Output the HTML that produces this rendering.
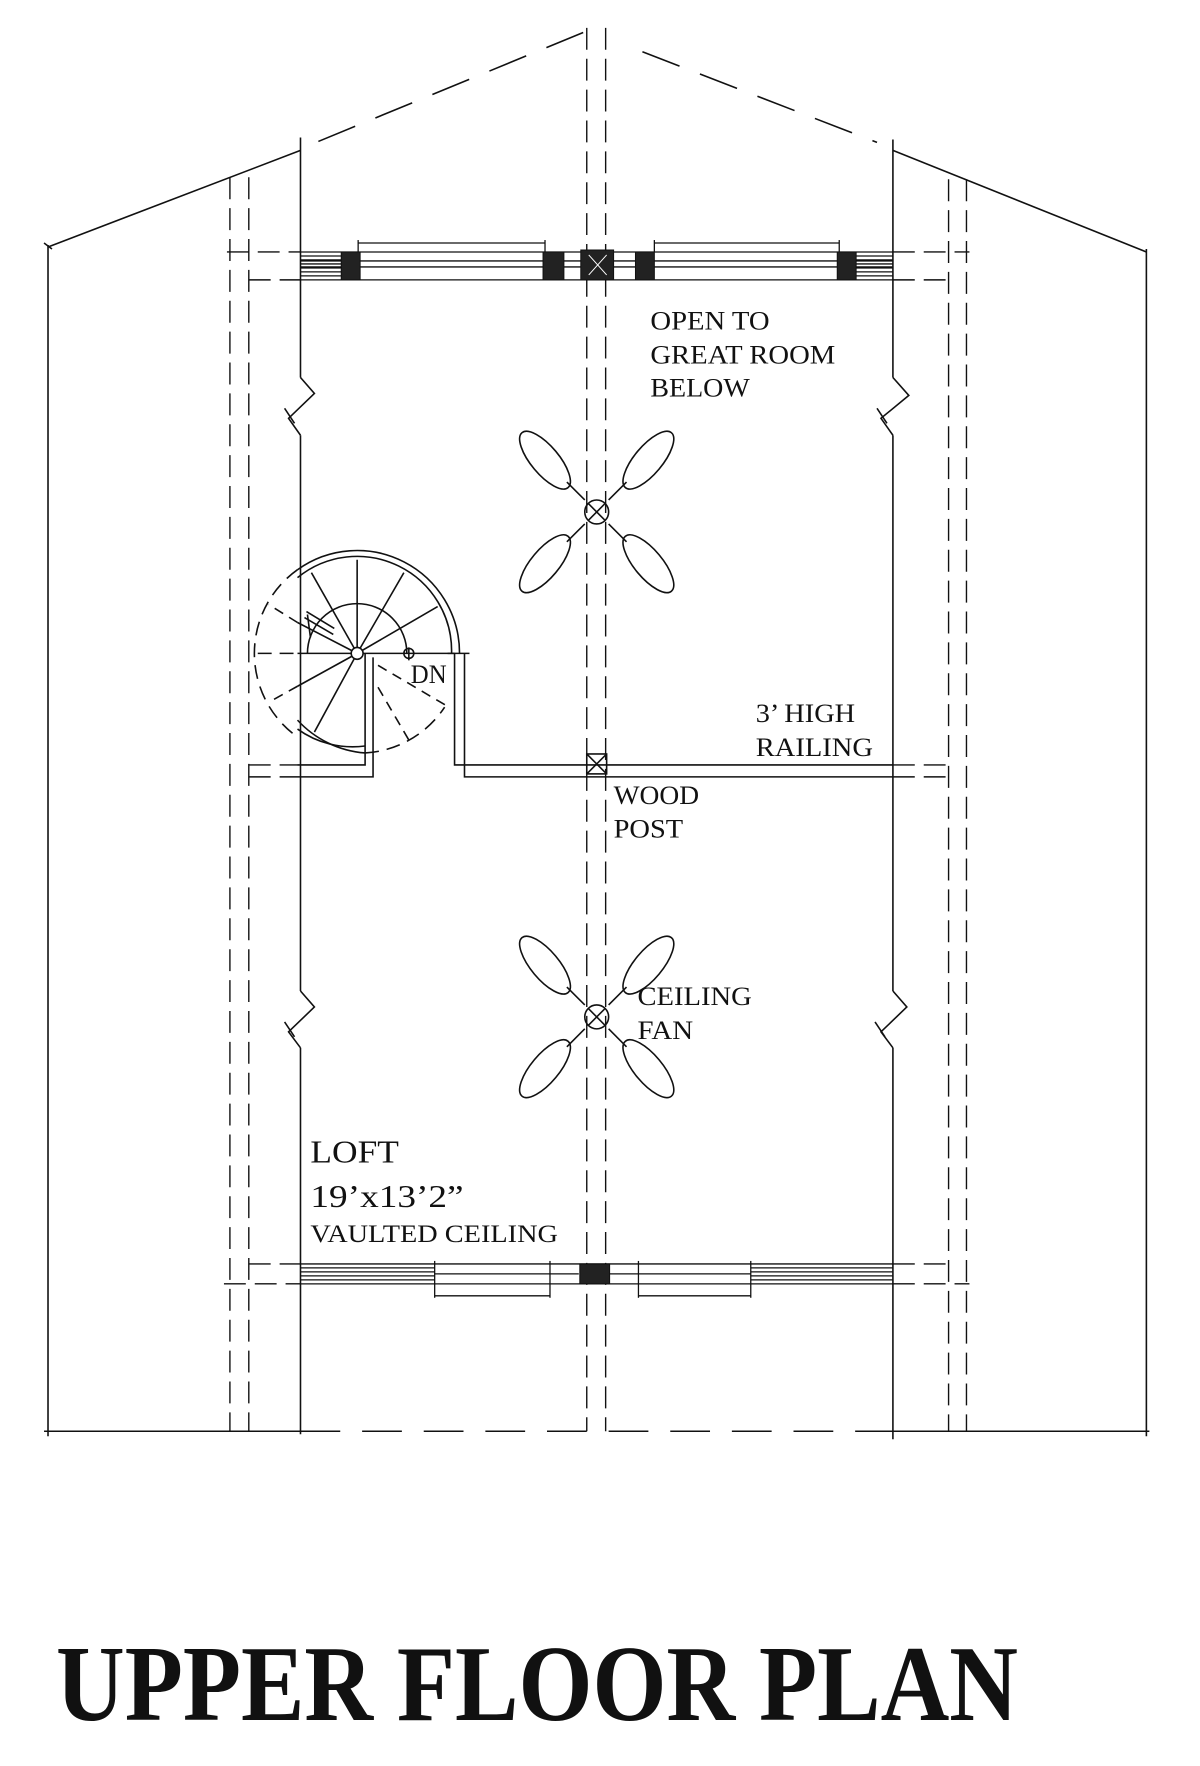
<!DOCTYPE html>
<html><head><meta charset="utf-8"><style>
html,body{margin:0;padding:0;background:#fff}
svg{display:block}
text{font-family:"Liberation Serif",serif;fill:#111}
</style></head><body>
<svg width="1200" height="1766" viewBox="0 0 1200 1766" xmlns="http://www.w3.org/2000/svg">
<g transform="translate(0.3,0) scale(0.994,0.996)">
<g stroke="#111" stroke-width="1.6" fill="none">
<line x1="48" y1="246" x2="48" y2="1442"/>
<line x1="1153" y1="250" x2="1153" y2="1442"/>
<line x1="44" y1="244" x2="52" y2="250"/>
<line x1="44" y1="1437" x2="302" y2="1437"/>
<line x1="302" y1="1437" x2="898" y2="1437" stroke-dasharray="40,22"/>
<line x1="894" y1="1437" x2="1156" y2="1437"/>
<line x1="48" y1="248" x2="302" y2="151"/>
<line x1="320" y1="142" x2="600" y2="27" stroke-dasharray="40,22"/>
<line x1="646" y1="52" x2="882" y2="143" stroke-dasharray="40,22"/>
<line x1="898" y1="151" x2="1153" y2="253"/>
<line x1="302" y1="138" x2="302" y2="379"/>
<polyline points="302,379 316,395 290,420 302,437"/>
<line x1="286" y1="410" x2="296" y2="425"/>
<line x1="302" y1="437" x2="302" y2="995"/>
<polyline points="302,995 316,1011 290,1036 302,1052"/>
<line x1="286" y1="1026" x2="296" y2="1041"/>
<line x1="302" y1="1052" x2="302" y2="1440"/>
<line x1="898" y1="140" x2="898" y2="379"/>
<polyline points="898,379 914,397 886,420 898,437"/>
<line x1="882" y1="410" x2="892" y2="425"/>
<line x1="898" y1="437" x2="898" y2="995"/>
<polyline points="898,995 912,1011 886,1036 898,1052"/>
<line x1="880" y1="1026" x2="890" y2="1041"/>
<line x1="898" y1="1052" x2="898" y2="1445"/>
</g>
<g stroke="#111" stroke-width="1.4" fill="none" stroke-dasharray="22,9">
<line x1="231" y1="178" x2="231" y2="1437"/>
<line x1="250" y1="178" x2="250" y2="1437"/>
<line x1="954" y1="180" x2="954" y2="1437"/>
<line x1="972" y1="180" x2="972" y2="1437"/>
<line x1="590" y1="28" x2="590" y2="1437"/>
<line x1="609" y1="28" x2="609" y2="1437"/>
<line x1="228" y1="253" x2="302" y2="253"/>
<line x1="898" y1="253" x2="975" y2="253"/>
<line x1="250" y1="281" x2="302" y2="281"/>
<line x1="898" y1="281" x2="960" y2="281"/>
<line x1="250" y1="1269" x2="302" y2="1269"/>
<line x1="898" y1="1269" x2="954" y2="1269"/>
<line x1="225" y1="1289" x2="302" y2="1289"/>
<line x1="898" y1="1289" x2="975" y2="1289"/>
<line x1="250" y1="768" x2="299" y2="768"/>
<line x1="250" y1="780" x2="299" y2="780"/>
<line x1="898" y1="768" x2="954" y2="768"/>
<line x1="898" y1="780" x2="954" y2="780"/>
</g>
<g stroke="#111" stroke-width="1.3" fill="none">
<line x1="302" y1="253" x2="898" y2="253"/>
<line x1="302" y1="281" x2="898" y2="281"/>
<line x1="302" y1="262" x2="898" y2="262"/>
<line x1="302" y1="268" x2="898" y2="268"/>
<line x1="360" y1="244" x2="548" y2="244"/><line x1="360" y1="241" x2="360" y2="253"/><line x1="548" y1="241" x2="548" y2="253"/>
<line x1="658" y1="244" x2="844" y2="244"/><line x1="658" y1="241" x2="658" y2="253"/><line x1="844" y1="241" x2="844" y2="253"/>
<path d="M302 257H343M302 261H343M302 265H343M302 269H343M302 273H343M302 277H343M861 257H898M861 261H898M861 265H898M861 269H898M861 273H898M861 277H898"/>
<line x1="302" y1="1269" x2="898" y2="1269"/>
<line x1="302" y1="1289" x2="898" y2="1289"/>
<path d="M302 1273H437M302 1277H437M302 1281H437M302 1285H437M755 1273H898M755 1277H898M755 1281H898M755 1285H898"/>
<line x1="437" y1="1279" x2="582" y2="1279"/><line x1="613" y1="1279" x2="755" y2="1279"/>
<line x1="437" y1="1301" x2="553" y2="1301"/><line x1="437" y1="1266" x2="437" y2="1303"/><line x1="553" y1="1266" x2="553" y2="1303"/>
<line x1="642" y1="1301" x2="755" y2="1301"/><line x1="642" y1="1266" x2="642" y2="1303"/><line x1="755" y1="1266" x2="755" y2="1303"/>
</g>
<g fill="#222" stroke="#111">
<rect x="343" y="253" width="19" height="28"/>
<rect x="546" y="253" width="21" height="28"/>
<rect x="584" y="251" width="33" height="30"/>
<rect x="639" y="253" width="19" height="28"/>
<rect x="842" y="253" width="19" height="28"/>
<rect x="583" y="1269" width="30" height="20"/>
</g>
<g stroke="#fff" stroke-width="1"><line x1="592" y1="256" x2="610" y2="276"/><line x1="610" y1="256" x2="592" y2="276"/></g>
<g stroke="#111" stroke-width="1.6" fill="none">
<polyline points="457,656 457,768 898,768"/>
<polyline points="467,656 467,780 898,780"/>
<line x1="450" y1="656" x2="472" y2="656"/>
<polyline points="299,768 367,768 367,656"/>
<polyline points="299,780 375,780 375,660"/>
<rect x="590" y="757" width="20" height="20"/>
<line x1="590" y1="757" x2="610" y2="777"/><line x1="610" y1="757" x2="590" y2="777"/>
<path d="M299 572 A103 103 0 0 1 462 656"/>
<path d="M299 580 A95 95 0 0 1 454 656"/>
<path d="M299 723 A103 103 0 0 0 367 756"/>
<path d="M299 732 A95 95 0 0 0 367 749"/>
<path d="M299 572 A103 103 0 0 0 299 740" stroke-dasharray="14,8"/>
<path d="M367 756 A103 103 0 0 0 447 710" stroke-dasharray="14,8"/>
<path d="M309 656 A50 50 0 0 1 409 656"/>
<line x1="259" y1="656" x2="299" y2="656" stroke-dasharray="14,8"/>
<line x1="299" y1="656" x2="457" y2="656"/>
<line x1="359" y1="656" x2="359" y2="562"/>
<line x1="359" y1="656" x2="406" y2="575"/>
<line x1="359" y1="656" x2="440" y2="609"/>
<line x1="359" y1="656" x2="313" y2="575"/>
<line x1="359" y1="656" x2="299" y2="625"/>
<line x1="299" y1="689" x2="359" y2="656"/>
<line x1="316" y1="735" x2="359" y2="656"/>
<line x1="299" y1="625" x2="270" y2="607" stroke-dasharray="10,7"/>
<line x1="299" y1="689" x2="272" y2="704" stroke-dasharray="10,7"/>
<line x1="380" y1="668" x2="448" y2="708" stroke-dasharray="10,7"/>
<line x1="380" y1="690" x2="411" y2="743" stroke-dasharray="10,7"/>
<line x1="306" y1="620" x2="335" y2="637"/><line x1="308" y1="614" x2="336" y2="631"/>
<line x1="309" y1="617" x2="312" y2="640"/>
<circle cx="359" cy="656" r="6" fill="#fff"/>
<circle cx="411" cy="656" r="5"/><line x1="411" y1="650" x2="411" y2="663"/>
</g>
<g stroke="#111" stroke-width="1.6" fill="none">
<g transform="translate(600,514)">
<circle r="12"/><line x1="-8" y1="-8" x2="8" y2="8"/><line x1="8" y1="-8" x2="-8" y2="8"/>
<line x1="-12" y1="-12" x2="-30" y2="-30"/><line x1="12" y1="-12" x2="30" y2="-30"/><line x1="-12" y1="12" x2="-30" y2="30"/><line x1="12" y1="12" x2="30" y2="30"/>
<ellipse cx="-52" cy="-52" rx="36" ry="14" transform="rotate(50 -52 -52)"/>
<ellipse cx="52" cy="-52" rx="36" ry="14" transform="rotate(-50 52 -52)"/>
<ellipse cx="-52" cy="52" rx="36" ry="14" transform="rotate(-50 -52 52)"/>
<ellipse cx="52" cy="52" rx="36" ry="14" transform="rotate(50 52 52)"/>
</g>
<g transform="translate(600,1021)">
<circle r="12"/><line x1="-8" y1="-8" x2="8" y2="8"/><line x1="8" y1="-8" x2="-8" y2="8"/>
<line x1="-12" y1="-12" x2="-30" y2="-30"/><line x1="12" y1="-12" x2="30" y2="-30"/><line x1="-12" y1="12" x2="-30" y2="30"/><line x1="12" y1="12" x2="30" y2="30"/>
<ellipse cx="-52" cy="-52" rx="36" ry="14" transform="rotate(50 -52 -52)"/>
<ellipse cx="52" cy="-52" rx="36" ry="14" transform="rotate(-50 52 -52)"/>
<ellipse cx="-52" cy="52" rx="36" ry="14" transform="rotate(-50 -52 52)"/>
<ellipse cx="52" cy="52" rx="36" ry="14" transform="rotate(50 52 52)"/>
</g>
</g>
<g font-size="27">
<text x="654" y="331" textLength="120" lengthAdjust="spacingAndGlyphs">OPEN TO</text>
<text x="654" y="365" textLength="186" lengthAdjust="spacingAndGlyphs">GREAT ROOM</text>
<text x="654" y="398" textLength="100" lengthAdjust="spacingAndGlyphs">BELOW</text>
<text x="413" y="686" textLength="36" lengthAdjust="spacingAndGlyphs">DN</text>
<text x="760" y="725" textLength="100" lengthAdjust="spacingAndGlyphs">3’ HIGH</text>
<text x="760" y="759" textLength="118" lengthAdjust="spacingAndGlyphs">RAILING</text>
<text x="617" y="807" textLength="86" lengthAdjust="spacingAndGlyphs">WOOD</text>
<text x="617" y="841" textLength="70" lengthAdjust="spacingAndGlyphs">POST</text>
<text x="641" y="1009" textLength="115" lengthAdjust="spacingAndGlyphs">CEILING</text>
<text x="641" y="1043" textLength="56" lengthAdjust="spacingAndGlyphs">FAN</text>
<text x="312" y="1167" font-size="32" textLength="89" lengthAdjust="spacingAndGlyphs">LOFT</text>
<text x="312" y="1212" font-size="32" textLength="154" lengthAdjust="spacingAndGlyphs">19’x13’2”</text>
<text x="312" y="1247" font-size="25" textLength="249" lengthAdjust="spacingAndGlyphs">VAULTED CEILING</text>
</g>
</g>
<text x="56" y="1720" font-size="108" font-weight="bold" textLength="962" lengthAdjust="spacingAndGlyphs">UPPER FLOOR PLAN</text>
</svg>
</body></html>
